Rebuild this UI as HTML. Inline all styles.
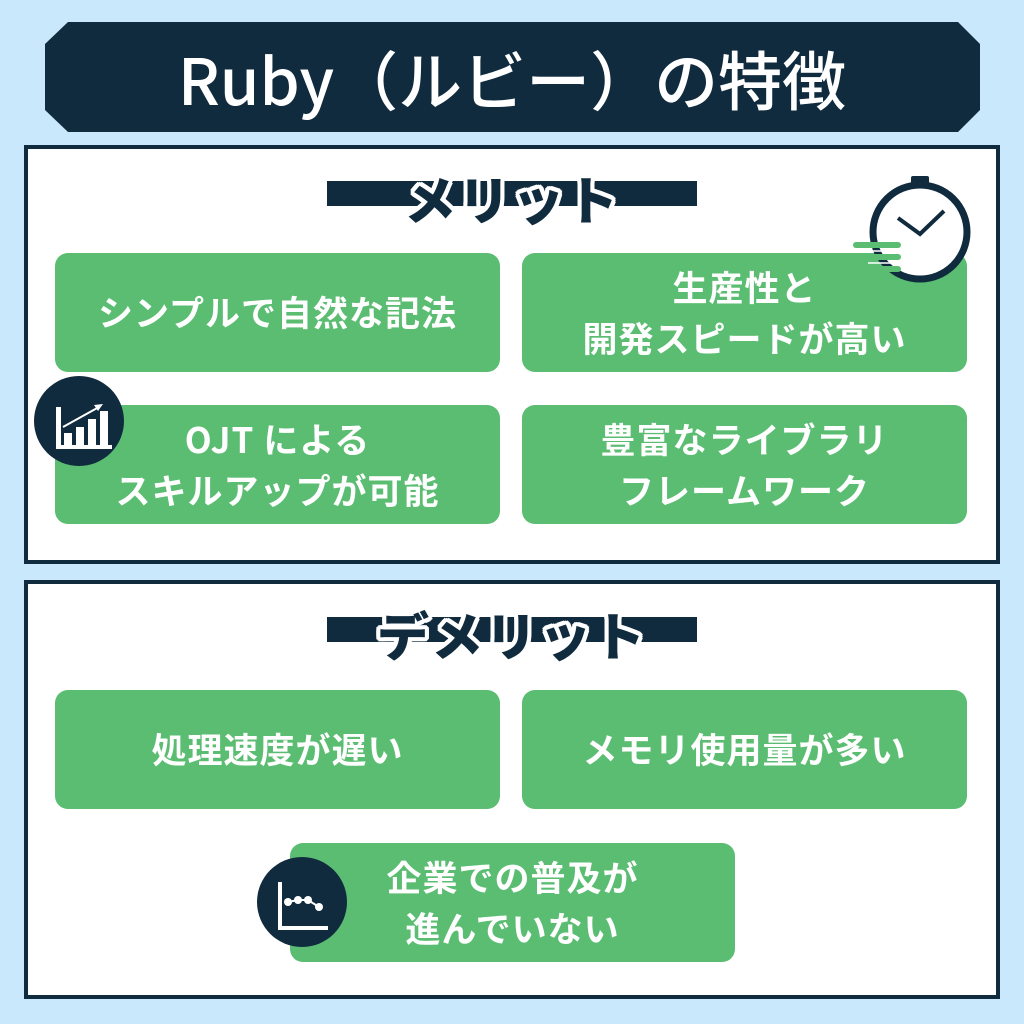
<!DOCTYPE html>
<html><head><meta charset="utf-8"><style>
*{margin:0;padding:0;box-sizing:border-box}
body{width:1024px;height:1024px;background:#c9e8fb;position:relative;overflow:hidden;font-family:"Liberation Sans","Noto Sans CJK JP",sans-serif}
.abs{position:absolute}
.panel{position:absolute;left:24px;width:976px;background:#fff;border:4px solid #102b3e}
.bar{position:absolute;left:327px;width:370px;height:25px;background:#102b3e}
.hd{position:absolute;left:0;width:1024px;text-align:center;font-size:52px;line-height:60px;font-weight:900;color:#102b3e;letter-spacing:2px;font-family:"Noto Sans CJK JP",sans-serif;
text-shadow:4px 0 #fff,-4px 0 #fff,0 4px #fff,0 -4px #fff,3px 3px #fff,-3px 3px #fff,3px -3px #fff,-3px -3px #fff,2px 4px #fff,-2px 4px #fff,2px -4px #fff,-2px -4px #fff,4px 2px #fff,-4px 2px #fff,4px -2px #fff,-4px -2px #fff}
.box{position:absolute;width:445px;height:119px;background:#5bbd72;border-radius:13px;color:#fff;font-weight:bold;font-size:35px;display:flex;align-items:center;justify-content:center;text-align:center;line-height:1.45;letter-spacing:1px;font-family:"Noto Sans CJK JP",sans-serif}
</style></head><body>
<svg class="abs" style="left:0;top:0" width="1024" height="140"><polygon points="68,22 958,22 980,44 980,110 958,132 68,132 45,110 45,44" fill="#102b3e"/></svg>
<div class="abs" style="left:0;top:33px;width:1024px;text-align:center;color:#fff;font-size:64px;line-height:90px;font-weight:500;font-family:'Noto Sans CJK JP',sans-serif">Ruby（ルビー）の特徴</div>

<div class="panel" style="top:145px;height:419px"></div>
<div class="bar" style="top:181px"></div>
<div class="hd" style="top:168px">メリット</div>
<div class="box" style="left:55px;top:253px">シンプルで自然な記法</div>
<div class="box" style="left:522px;top:253px">生産性と<br>開発スピードが高い</div>
<div class="box" style="left:55px;top:405px">OJT による<br>スキルアップが可能</div>
<div class="box" style="left:522px;top:405px">豊富なライブラリ<br>フレームワーク</div>

<svg class="abs" style="left:840px;top:166px" width="150" height="124">
<rect x="71" y="10" width="18" height="11" rx="2" fill="#102b3e"/>
<circle cx="80" cy="66" r="47" fill="#fff" stroke="#102b3e" stroke-width="7"/>
<polyline points="58,52 80,68 104,45" fill="none" stroke="#102b3e" stroke-width="4"/>
<g stroke="#5bbd72" stroke-width="6" stroke-linecap="round"><line x1="16" y1="79" x2="58" y2="79"/><line x1="24" y1="91" x2="58" y2="91"/><line x1="34" y1="103" x2="58" y2="103"/></g>
<g stroke="#fff" stroke-width="1.5"><line x1="20" y1="85" x2="60" y2="85"/><line x1="28" y1="97" x2="60" y2="97"/></g>
</svg>

<svg class="abs" style="left:33px;top:375px" width="92" height="92">
<circle cx="46" cy="46" r="45" fill="#102b3e"/>
<g fill="#fff"><rect x="23" y="32" width="5" height="42"/><rect x="23" y="70" width="56" height="4"/><rect x="31" y="58" width="8" height="13"/><rect x="43" y="52" width="8" height="19"/><rect x="55" y="44" width="8" height="27"/><rect x="67" y="36" width="8" height="35"/></g>
<line x1="30" y1="52" x2="66" y2="32" stroke="#fff" stroke-width="2"/><polygon points="70,29 61,30 65,36" fill="#fff"/>
</svg>

<div class="panel" style="top:580px;height:419px"></div>
<div class="bar" style="top:617px"></div>
<div class="hd" style="top:604px">デメリット</div>
<div class="box" style="left:55px;top:690px">処理速度が遅い</div>
<div class="box" style="left:522px;top:690px">メモリ使用量が多い</div>
<div class="box" style="left:290px;top:843px">企業での普及が<br>進んでいない</div>

<svg class="abs" style="left:256px;top:856px" width="92" height="92">
<circle cx="46" cy="46" r="45" fill="#102b3e"/>
<polyline points="24,26 24,72 72,72" fill="none" stroke="#fff" stroke-width="4"/>
<polyline points="32,46 42,44 52,44 63,51" fill="none" stroke="#fff" stroke-width="2"/>
<g fill="#fff"><circle cx="32" cy="46" r="4"/><circle cx="42" cy="44" r="4"/><circle cx="52" cy="44" r="4"/><circle cx="63" cy="51" r="4"/></g>
</svg>
</body></html>
